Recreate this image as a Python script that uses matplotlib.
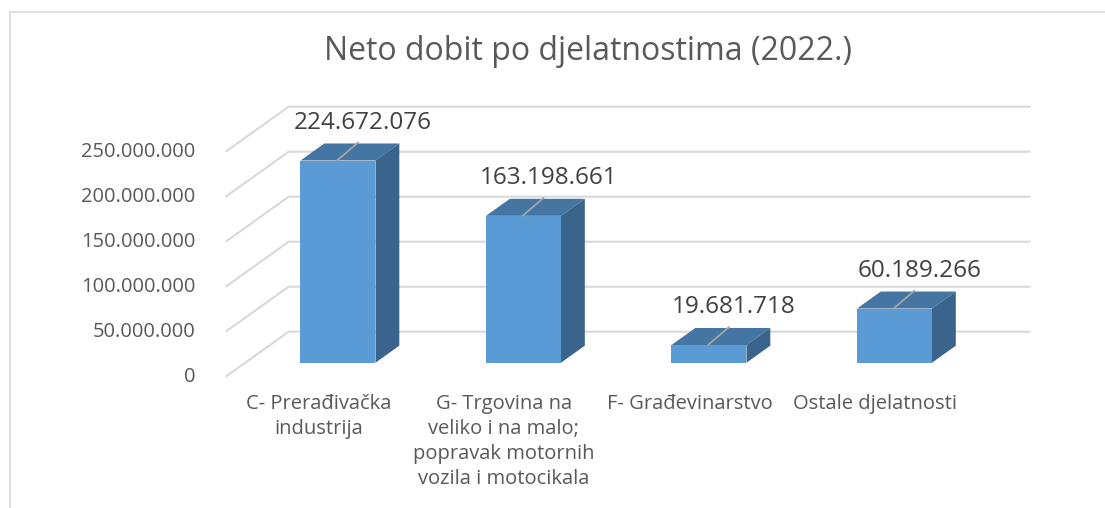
import matplotlib
matplotlib.use("Agg")
import matplotlib.pyplot as plt
from matplotlib.patches import Polygon, Rectangle

# ---- data ----
categories = ["C- Prerađivačka\nindustrija",
              "G- Trgovina na\nveliko i na malo;\npopravak motornih\nvozila i motocikala",
              "F- Građevinarstvo",
              "Ostale djelatnosti"]
values = [224672076, 163198661, 19681718, 60189266]
value_labels = ["224.672.076", "163.198.661", "19.681.718", "60.189.266"]
ticks = [0, 50000000, 100000000, 150000000, 200000000, 250000000]
tick_labels = ["0", "50.000.000", "100.000.000", "150.000.000", "200.000.000", "250.000.000"]
title = "Neto dobit po djelatnostima (2022.)"

# ---- layout (pixel geometry of the pseudo-3D scene) ----
W, H = 1105, 508
PX_X0, PX_PER_CAT = 318.4, 185.5
PX_Y0, PX_PER_UNIT = 376.7, 0.9e-6
DX = 63 / PX_PER_CAT          # full depth, x
DY = 45 / PX_PER_UNIT         # full depth, y
Z0, Z1 = 0.311, 0.689         # bar front/back planes
BW = 75 / PX_PER_CAT

FRONT = "#5B9BD5"
TOP = "#4575A2"
SIDE = "#3A648B"
GRID = "#D9D9D9"
TXT = "#595959"

font = "Open Sans"

fig = plt.figure(figsize=(W / 100, H / 100), dpi=100)
ax = fig.add_axes([0, 0, 1, 1])
ax.set_xlim(-PX_X0 / PX_PER_CAT, (W - PX_X0) / PX_PER_CAT)
ax.set_ylim((PX_Y0 - H) / PX_PER_UNIT, PX_Y0 / PX_PER_UNIT)
ax.axis("off")

# chart border
fig.patches.append(Rectangle((10 / W, -0.1), 1.2, 1.1 - 12 / H, transform=fig.transFigure,
                             fill=False, edgecolor=GRID, linewidth=1.2, zorder=0))

n = len(values)
xl_wall = -0.5
xr_wall = n - 0.5

# gridlines: left side wall diagonal + back wall horizontal
for t, lab in zip(ticks, tick_labels):
    ax.plot([xl_wall, xl_wall + DX, xr_wall + DX], [t, t + DY, t + DY],
            color=GRID, linewidth=1.5, zorder=1, solid_capstyle="butt")
    ax.annotate(lab, xy=(xl_wall, t), xytext=(-30, 0), textcoords="offset pixels",
                ha="right", va="center", fontsize=14.5, color=TXT, family=font)

# bars
d = Z1 - Z0
for i, v in enumerate(values):
    xc = i + Z0 * DX
    base = Z0 * DY
    top = v + base
    xl, xr = xc - BW / 2, xc + BW / 2
    ax.bar([xc], [v], width=BW, bottom=base, color=FRONT, zorder=3, linewidth=0)
    ax.add_patch(Polygon([(xl, top), (xr, top), (xr + d * DX, top + d * DY), (xl + d * DX, top + d * DY)],
                         closed=True, facecolor=TOP, edgecolor="none", zorder=3))
    ax.add_patch(Polygon([(xr, base), (xr, top), (xr + d * DX, top + d * DY), (xr + d * DX, base + d * DY)],
                         closed=True, facecolor=SIDE, edgecolor="none", zorder=3))
    # leader line and value label
    ax.annotate("", xy=(xc - 0.005, top), xytext=(21, 18), textcoords="offset pixels",
                arrowprops=dict(arrowstyle="-", color="#A6A6A6", lw=1.3, shrinkA=0, shrinkB=0), zorder=4)
    ax.annotate(value_labels[i], xy=(xc, top), xytext=(25, 38), textcoords="offset pixels",
                ha="center", va="center", fontsize=17.5, color="#404040", family=font, zorder=5)

# category labels
for i, c in enumerate(categories):
    ax.annotate(c, xy=(i, 0), xytext=(0, -17), textcoords="offset pixels",
                ha="center", va="top", fontsize=14.5, color=TXT, family=font, linespacing=1.33)

fig.text(588 / W, 1 - 51 / H, title, ha="center", va="center", fontsize=23, color=TXT, family=font)

fig.savefig("out.png", dpi=100)
